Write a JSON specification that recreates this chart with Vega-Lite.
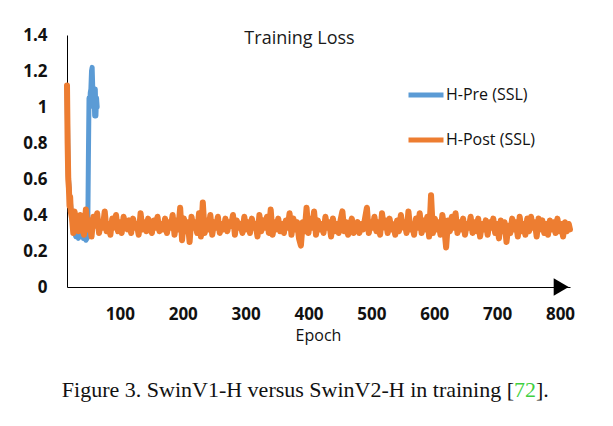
{
  "$schema": "https://vega.github.io/schema/vega-lite/v6.json",
  "autosize": {"type": "none"},
  "width": 503,
  "height": 252,
  "padding": {"left": 67, "top": 35, "right": 43, "bottom": 139},
  "background": "white",
  "title": {"text": "Training Loss", "frame": "group", "anchor": "middle", "orient": "top", "offset": -22, "dx": -19, "font": "Open Sans", "fontSize": 18, "fontWeight": "normal", "color": "#1a1a1a"},
  "datasets": {
    "pre": [
      {"e":0,"v":1.1},{"e":2,"v":0.62},{"e":4,"v":0.52},{"e":6,"v":0.45},{"e":8,"v":0.38},{"e":10,"v":0.33},{"e":12,"v":0.3},{"e":14,"v":0.28},{"e":16,"v":0.31},{"e":18,"v":0.27},{"e":20,"v":0.29},{"e":22,"v":0.28},{"e":24,"v":0.3},{"e":26,"v":0.27},{"e":28,"v":0.29},{"e":30,"v":0.26},{"e":32,"v":0.27},{"e":33,"v":0.3},{"e":34,"v":0.7},{"e":35,"v":1.05},{"e":36,"v":1.0},{"e":37,"v":1.08},{"e":38,"v":1.1},{"e":39,"v":1.2},{"e":40,"v":1.22},{"e":41,"v":1.1},{"e":42,"v":1.0},{"e":43,"v":1.08},{"e":44,"v":0.95},{"e":45,"v":1.1},{"e":46,"v":0.95},{"e":47,"v":1.05},{"e":48,"v":1.0}
    ],
    "post": [
      {"e":0,"v":1.12},{"e":1,"v":0.8},{"e":2,"v":0.6},{"e":3,"v":0.55},{"e":4,"v":0.45},{"e":5,"v":0.5},{"e":6,"v":0.42},{"e":8,"v":0.38},{"e":10,"v":0.3},{"e":12,"v":0.42},
      {"e":15,"v":0.36},{"e":18,"v":0.31},{"e":21,"v":0.40},{"e":24,"v":0.33},{"e":27,"v":0.29},{"e":30,"v":0.43},{"e":33,"v":0.32},{"e":36,"v":0.37},{"e":39,"v":0.28},{"e":42,"v":0.39},
      {"e":45,"v":0.34},{"e":48,"v":0.41},{"e":51,"v":0.30},{"e":54,"v":0.36},{"e":57,"v":0.33},{"e":60,"v":0.42},{"e":63,"v":0.31},{"e":66,"v":0.35},{"e":69,"v":0.29},{"e":72,"v":0.38},
      {"e":75,"v":0.33},{"e":78,"v":0.40},{"e":81,"v":0.31},{"e":84,"v":0.36},{"e":87,"v":0.30},{"e":90,"v":0.39},{"e":93,"v":0.34},{"e":96,"v":0.32},{"e":99,"v":0.37},{"e":102,"v":0.30},
      {"e":105,"v":0.38},{"e":108,"v":0.33},{"e":111,"v":0.35},{"e":114,"v":0.29},{"e":117,"v":0.41},{"e":120,"v":0.32},{"e":123,"v":0.36},{"e":126,"v":0.31},{"e":129,"v":0.38},{"e":132,"v":0.34},
      {"e":135,"v":0.30},{"e":138,"v":0.37},{"e":141,"v":0.33},{"e":144,"v":0.39},{"e":147,"v":0.31},{"e":150,"v":0.35},{"e":153,"v":0.32},{"e":156,"v":0.38},{"e":159,"v":0.30},{"e":162,"v":0.36},
      {"e":165,"v":0.33},{"e":168,"v":0.40},{"e":171,"v":0.29},{"e":174,"v":0.37},{"e":177,"v":0.32},{"e":180,"v":0.44},{"e":183,"v":0.26},{"e":186,"v":0.38},{"e":189,"v":0.31},{"e":192,"v":0.36},
      {"e":195,"v":0.25},{"e":198,"v":0.39},{"e":201,"v":0.33},{"e":204,"v":0.36},{"e":207,"v":0.30},{"e":210,"v":0.41},{"e":213,"v":0.28},{"e":216,"v":0.47},{"e":219,"v":0.30},{"e":222,"v":0.37},
      {"e":225,"v":0.32},{"e":228,"v":0.40},{"e":231,"v":0.29},{"e":234,"v":0.36},{"e":237,"v":0.33},{"e":240,"v":0.39},{"e":243,"v":0.30},{"e":246,"v":0.35},{"e":249,"v":0.32},{"e":252,"v":0.38},
      {"e":255,"v":0.31},{"e":258,"v":0.36},{"e":261,"v":0.34},{"e":264,"v":0.40},{"e":267,"v":0.29},{"e":270,"v":0.37},{"e":273,"v":0.33},{"e":276,"v":0.35},{"e":279,"v":0.30},{"e":282,"v":0.39},
      {"e":285,"v":0.32},{"e":288,"v":0.36},{"e":291,"v":0.30},{"e":294,"v":0.38},{"e":297,"v":0.33},{"e":300,"v":0.35},{"e":303,"v":0.28},{"e":306,"v":0.40},{"e":309,"v":0.31},{"e":312,"v":0.37},
      {"e":315,"v":0.33},{"e":318,"v":0.39},{"e":321,"v":0.30},{"e":324,"v":0.43},{"e":327,"v":0.29},{"e":330,"v":0.36},{"e":333,"v":0.32},{"e":336,"v":0.38},{"e":339,"v":0.31},{"e":342,"v":0.35},
      {"e":345,"v":0.30},{"e":348,"v":0.37},{"e":351,"v":0.33},{"e":354,"v":0.41},{"e":357,"v":0.29},{"e":360,"v":0.38},{"e":363,"v":0.32},{"e":366,"v":0.36},{"e":369,"v":0.27},{"e":372,"v":0.23},
      {"e":375,"v":0.36},{"e":378,"v":0.31},{"e":381,"v":0.44},{"e":384,"v":0.30},{"e":387,"v":0.38},{"e":390,"v":0.33},{"e":393,"v":0.42},{"e":396,"v":0.29},{"e":399,"v":0.37},{"e":402,"v":0.32},
      {"e":405,"v":0.35},{"e":408,"v":0.30},{"e":411,"v":0.39},{"e":414,"v":0.33},{"e":417,"v":0.36},{"e":420,"v":0.28},{"e":423,"v":0.38},{"e":426,"v":0.31},{"e":429,"v":0.35},{"e":432,"v":0.30},
      {"e":435,"v":0.37},{"e":438,"v":0.42},{"e":441,"v":0.31},{"e":444,"v":0.36},{"e":447,"v":0.29},{"e":450,"v":0.34},{"e":453,"v":0.38},{"e":456,"v":0.30},{"e":459,"v":0.33},{"e":462,"v":0.36},
      {"e":465,"v":0.30},{"e":468,"v":0.35},{"e":471,"v":0.32},{"e":474,"v":0.38},{"e":477,"v":0.44},{"e":480,"v":0.30},{"e":483,"v":0.36},{"e":486,"v":0.33},{"e":489,"v":0.39},{"e":492,"v":0.31},
      {"e":495,"v":0.36},{"e":498,"v":0.29},{"e":501,"v":0.41},{"e":504,"v":0.33},{"e":507,"v":0.37},{"e":510,"v":0.30},{"e":513,"v":0.38},{"e":516,"v":0.32},{"e":519,"v":0.35},{"e":522,"v":0.29},
      {"e":525,"v":0.37},{"e":528,"v":0.31},{"e":531,"v":0.40},{"e":534,"v":0.33},{"e":537,"v":0.36},{"e":540,"v":0.30},{"e":543,"v":0.42},{"e":546,"v":0.32},{"e":549,"v":0.35},{"e":552,"v":0.29},
      {"e":555,"v":0.38},{"e":558,"v":0.33},{"e":561,"v":0.41},{"e":564,"v":0.30},{"e":567,"v":0.37},{"e":570,"v":0.32},{"e":573,"v":0.39},{"e":576,"v":0.28},{"e":579,"v":0.51},{"e":582,"v":0.30},
      {"e":585,"v":0.38},{"e":588,"v":0.32},{"e":591,"v":0.36},{"e":594,"v":0.29},{"e":597,"v":0.40},{"e":600,"v":0.33},{"e":603,"v":0.22},{"e":606,"v":0.37},{"e":609,"v":0.31},{"e":612,"v":0.39},
      {"e":615,"v":0.33},{"e":618,"v":0.41},{"e":621,"v":0.30},{"e":624,"v":0.36},{"e":627,"v":0.32},{"e":630,"v":0.38},{"e":633,"v":0.29},{"e":636,"v":0.35},{"e":639,"v":0.33},{"e":642,"v":0.39},
      {"e":645,"v":0.30},{"e":648,"v":0.36},{"e":651,"v":0.31},{"e":654,"v":0.38},{"e":657,"v":0.28},{"e":660,"v":0.35},{"e":663,"v":0.32},{"e":666,"v":0.37},{"e":669,"v":0.29},{"e":672,"v":0.36},
      {"e":675,"v":0.33},{"e":678,"v":0.38},{"e":681,"v":0.30},{"e":684,"v":0.35},{"e":687,"v":0.27},{"e":690,"v":0.37},{"e":693,"v":0.31},{"e":696,"v":0.36},{"e":699,"v":0.25},{"e":702,"v":0.34},
      {"e":705,"v":0.30},{"e":708,"v":0.38},{"e":711,"v":0.32},{"e":714,"v":0.36},{"e":717,"v":0.28},{"e":720,"v":0.39},{"e":723,"v":0.31},{"e":726,"v":0.35},{"e":729,"v":0.29},{"e":732,"v":0.38},
      {"e":735,"v":0.31},{"e":738,"v":0.39},{"e":741,"v":0.33},{"e":744,"v":0.36},{"e":747,"v":0.28},{"e":750,"v":0.38},{"e":753,"v":0.32},{"e":756,"v":0.37},{"e":759,"v":0.30},{"e":762,"v":0.35},
      {"e":765,"v":0.29},{"e":768,"v":0.37},{"e":771,"v":0.32},{"e":774,"v":0.36},{"e":777,"v":0.30},{"e":780,"v":0.38},{"e":783,"v":0.31},{"e":786,"v":0.35},{"e":789,"v":0.28},{"e":792,"v":0.36},
      {"e":795,"v":0.31},{"e":798,"v":0.35},{"e":800,"v":0.32}
    ],
    "caption": [{"t1": "Figure 3. SwinV1-H versus SwinV2-H in training [", "t2": "72", "t3": "]."}]
  },
  "layer": [
    {
      "encoding": {
        "x": {"field": "e", "type": "quantitative", "scale": {"domain": [0, 800], "nice": false, "zero": false},
          "axis": {"values": [100,200,300,400,500,600,700,800], "title": "Epoch", "grid": false, "ticks": false,
            "domainColor": "#000", "domainWidth": 1, "labelFont": "Open Sans", "labelFontWeight": "bold", "labelFontSize": 17,
            "labelColor": "#111", "labelPadding": 19, "labelOffset": -10, "labelFlush": false, "labelOverlap": false,
            "titleFont": "Open Sans", "titleFontWeight": "normal", "titleFontSize": 16, "titleColor": "#111",
            "titleY": 48, "titleBaseline": "middle", "titleX": 251, "titleAnchor": "middle"}},
        "y": {"field": "v", "type": "quantitative", "scale": {"domain": [0, 1.4], "nice": false},
          "axis": {"values": [0,0.2,0.4,0.6,0.8,1,1.2,1.4], "tickCount": 8, "labelExpr": "format(datum.value, '~g')", "title": null, "grid": false, "ticks": false,
            "domainColor": "#000", "domainWidth": 1, "labelFont": "Open Sans", "labelFontWeight": "bold", "labelFontSize": 17,
            "labelColor": "#111", "labelPadding": 20, "labelFlush": false, "labelOverlap": false, "labelSeparation": 0}}
      },
      "layer": [
        {
          "data": {"name": "pre"},
          "mark": {"type": "line", "strokeWidth": 5, "strokeJoin": "round", "strokeCap": "round"},
          "encoding": {
            "color": {"datum": "H-Pre (SSL)", "type": "nominal",
              "scale": {"domain": ["H-Pre (SSL)", "H-Post (SSL)"], "range": ["#5B9BD5", "#ED7D31"]},
              "legend": {"title": null, "orient": "none", "legendX": 339, "legendY": 40, "symbolType": "stroke", "symbolSize": 1225,
                "symbolStrokeWidth": 5, "labelFont": "Open Sans", "labelFontSize": 16, "labelColor": "#111", "labelOffset": 0, "rowPadding": 15}}
          }
        },
        {
          "data": {"name": "post"},
          "mark": {"type": "line", "strokeWidth": 6, "strokeJoin": "round", "strokeCap": "round"},
          "encoding": {"color": {"datum": "H-Post (SSL)", "type": "nominal"}}
        },
        {
          "data": {"values": [{"e": 786, "v": 0}]},
          "mark": {"type": "point", "shape": "triangle-right", "filled": true, "size": 300, "color": "#000", "opacity": 1}
        }
      ]
    },
    {
      "data": {"name": "caption"},
      "mark": {"type": "text", "font": "Liberation Serif", "fontSize": 22, "align": "right", "baseline": "middle", "color": "#111"},
      "encoding": {"x": {"datum": 711, "type": "quantitative"}, "y": {"datum": -0.572, "type": "quantitative"}, "text": {"field": "t1"}}
    },
    {
      "data": {"name": "caption"},
      "mark": {"type": "text", "font": "Liberation Serif", "fontSize": 22, "align": "left", "baseline": "middle", "color": "#3fcf3f"},
      "encoding": {"x": {"datum": 711, "type": "quantitative"}, "y": {"datum": -0.572, "type": "quantitative"}, "text": {"field": "t2"}}
    },
    {
      "data": {"name": "caption"},
      "mark": {"type": "text", "font": "Liberation Serif", "fontSize": 22, "align": "left", "baseline": "middle", "color": "#111"},
      "encoding": {"x": {"datum": 746, "type": "quantitative"}, "y": {"datum": -0.572, "type": "quantitative"}, "text": {"field": "t3"}}
    }
  ],
  "config": {"view": {"stroke": null}, "axis": {"labelOverlap": false}}
}
